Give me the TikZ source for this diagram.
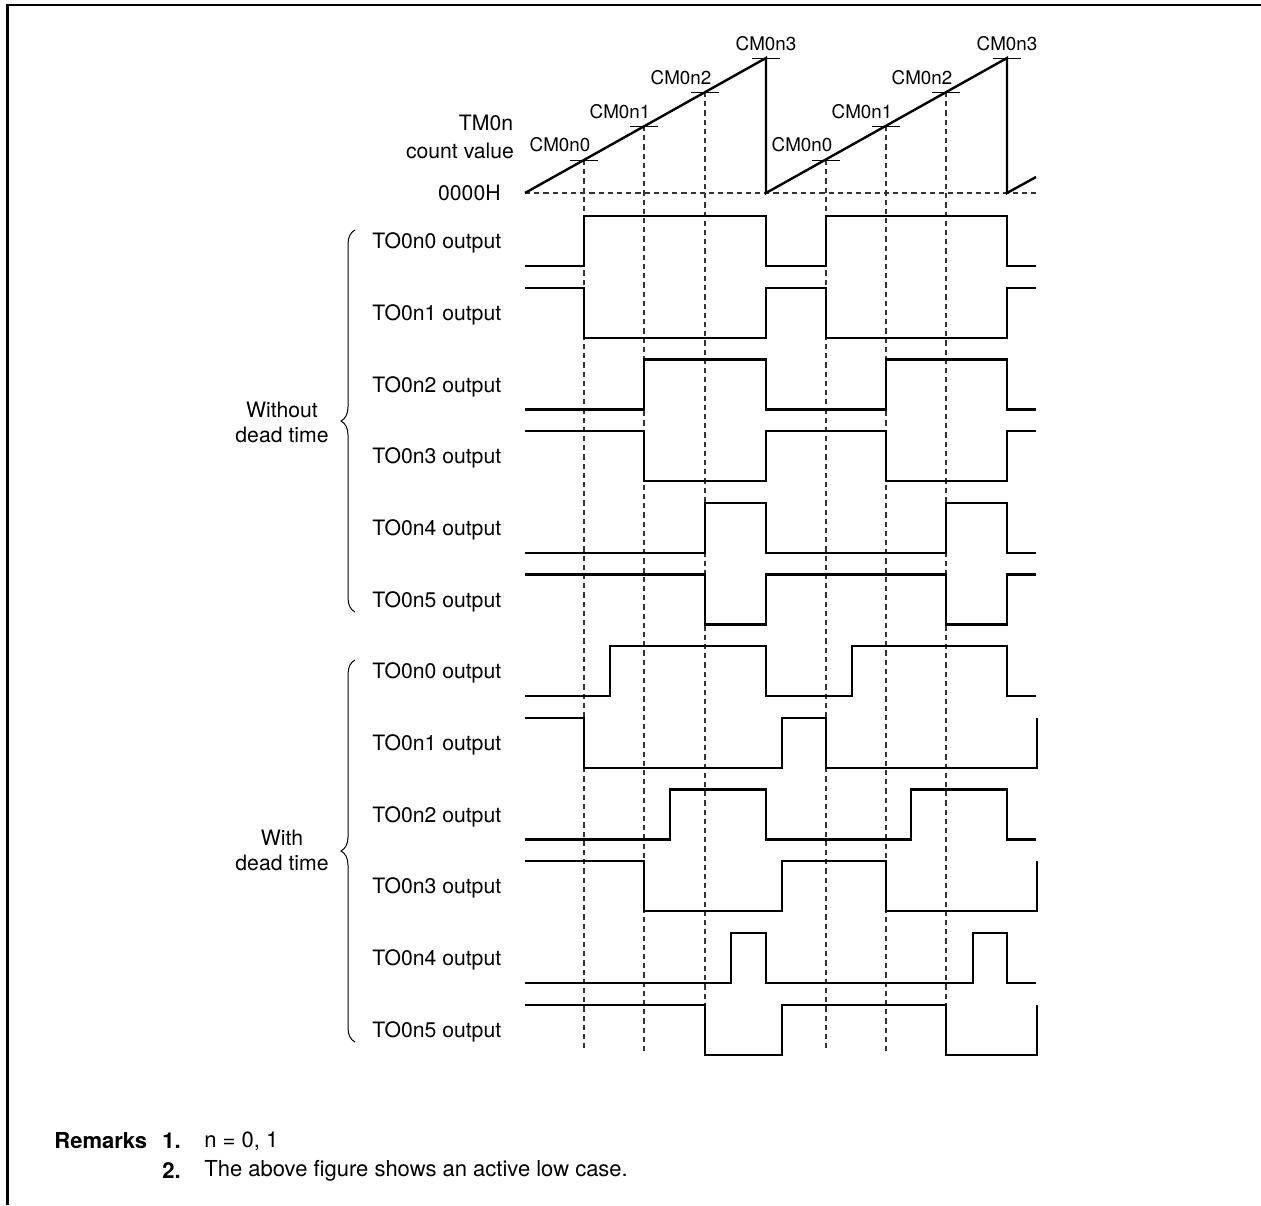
\documentclass[tikz,border=0pt]{standalone}
\usepackage{fontspec}
\setmainfont{TeX Gyre Heros}
\usetikzlibrary{decorations.pathreplacing}
\begin{document}
\begin{tikzpicture}[
  x=0.5pt, y=-0.5pt,
  every node/.style={font=\fontsize{10.6}{12.5}\selectfont, inner sep=0pt},
  cmlabel/.style={font=\fontsize{9.4}{11}\selectfont},
  remark/.style={anchor=west, font=\fontsize{11}{13}\selectfont},
  wave/.style={line width=1.15pt, line join=miter},
  ramp/.style={line width=1.2pt},
  grid/.style={dash pattern=on 2.6pt off 2pt, line width=0.55pt, black!80},
  tick/.style={line width=0.5pt},
  lbl/.style={anchor=west},
  curly/.style={decorate, decoration={brace, amplitude=7pt}, line width=0.5pt}
]
\useasboundingbox (0,0) rectangle (1261,1205);
% frame
\draw[line width=1.4pt] (7.5,1205) -- (7.5,5) -- (1261,5);

% counter
\coordinate (z0) at (525,193);
\coordinate (p0) at (584,160);
\coordinate (p1) at (644,126);
\coordinate (p2) at (705,92);
\coordinate (p3) at (766,58);
\coordinate (z1) at (766,193);
\coordinate (p4) at (826,160);
\coordinate (p5) at (886,126);
\coordinate (p6) at (946,92);
\coordinate (p7) at (1007,58);
\coordinate (z2) at (1007,193);
\coordinate (z3) at (1036,177);
\coordinate (bz) at (1036,193);
\coordinate (bot) at (0,1052);

\draw[grid] (z0) -- (bz);
\foreach \i in {0,1,2,4,5,6}
  \draw[grid] (p\i) -- (p\i |- bot);
\draw[ramp] (z0) -- (p3) -- (z1) -- (p7) -- (z2) -- (z3);
\foreach \i in {0,...,7}
  \draw[tick] ([xshift=-7pt]p\i) -- ([xshift=7pt]p\i);

\node[cmlabel] (c0) at (560,145) {CM0n0};
\node[cmlabel] (c1) at (620,112) {CM0n1};
\node[cmlabel] (c2) at (681,78)  {CM0n2};
\node[cmlabel] (c3) at (766,44)  {CM0n3};
\node[cmlabel] (c4) at (802,145) {CM0n0};
\node[cmlabel] (c5) at (862,112) {CM0n1};
\node[cmlabel] (c6) at (922,78)  {CM0n2};
\node[cmlabel] (c7) at (1007,44) {CM0n3};

\node (tm) at (486,123) {TM0n};
\node (cv) at (460,151) {count value};
\node[anchor=east] (zh) at (501,193) {0000H};

% without dead time
\begin{scope}[shift={(0,241)}]
  \node[lbl] (a0) at (372,2) {TO0n0 output};
  \draw[wave] (525,25) -- (584,25) -- (584,-25) -- (766,-25) -- (766,25) -- (826,25) -- (826,-25) -- (1007,-25) -- (1007,25) -- (1036,25);
\end{scope}
\begin{scope}[shift={(0,312.7)}]
  \node[lbl] (a1) at (372,2) {TO0n1 output};
  \draw[wave] (525,-25) -- (584,-25) -- (584,25) -- (766,25) -- (766,-25) -- (826,-25) -- (826,25) -- (1007,25) -- (1007,-25) -- (1036,-25);
\end{scope}
\begin{scope}[shift={(0,384.4)}]
  \node[lbl] (a2) at (372,2) {TO0n2 output};
  \draw[wave] (525,25) -- (644,25) -- (644,-25) -- (766,-25) -- (766,25) -- (886,25) -- (886,-25) -- (1007,-25) -- (1007,25) -- (1036,25);
\end{scope}
\begin{scope}[shift={(0,456.1)}]
  \node[lbl] (a3) at (372,2) {TO0n3 output};
  \draw[wave] (525,-25) -- (644,-25) -- (644,25) -- (766,25) -- (766,-25) -- (886,-25) -- (886,25) -- (1007,25) -- (1007,-25) -- (1036,-25);
\end{scope}
\begin{scope}[shift={(0,527.8)}]
  \node[lbl] (a4) at (372,2) {TO0n4 output};
  \draw[wave] (525,25) -- (705,25) -- (705,-25) -- (766,-25) -- (766,25) -- (946,25) -- (946,-25) -- (1007,-25) -- (1007,25) -- (1036,25);
\end{scope}
\begin{scope}[shift={(0,599.5)}]
  \node[lbl] (a5) at (372,2) {TO0n5 output};
  \draw[wave] (525,-25) -- (705,-25) -- (705,25) -- (766,25) -- (766,-25) -- (946,-25) -- (946,25) -- (1007,25) -- (1007,-25) -- (1036,-25);
\end{scope}

% with dead time
\begin{scope}[shift={(0,671.2)}]
  \node[lbl] (d0) at (372,2) {TO0n0 output};
  \draw[wave] (525,25) -- (610,25) -- (610,-25) -- (766,-25) -- (766,25) -- (852,25) -- (852,-25) -- (1007,-25) -- (1007,25) -- (1036,25);
\end{scope}
\begin{scope}[shift={(0,742.9)}]
  \node[lbl] (d1) at (372,2) {TO0n1 output};
  \draw[wave] (525,-25) -- (584,-25) -- (584,25) -- (782,25) -- (782,-25) -- (826,-25) -- (826,25) -- (1037,25) -- (1037,-25);
\end{scope}
\begin{scope}[shift={(0,814.6)}]
  \node[lbl] (d2) at (372,2) {TO0n2 output};
  \draw[wave] (525,25) -- (670,25) -- (670,-25) -- (766,-25) -- (766,25) -- (911,25) -- (911,-25) -- (1007,-25) -- (1007,25) -- (1036,25);
\end{scope}
\begin{scope}[shift={(0,886.3)}]
  \node[lbl] (d3) at (372,2) {TO0n3 output};
  \draw[wave] (525,-25) -- (644,-25) -- (644,25) -- (782,25) -- (782,-25) -- (886,-25) -- (886,25) -- (1037,25) -- (1037,-25);
\end{scope}
\begin{scope}[shift={(0,958)}]
  \node[lbl] (d4) at (372,2) {TO0n4 output};
  \draw[wave] (525,25) -- (731,25) -- (731,-25) -- (766,-25) -- (766,25) -- (973,25) -- (973,-25) -- (1007,-25) -- (1007,25) -- (1036,25);
\end{scope}
\begin{scope}[shift={(0,1029.7)}]
  \node[lbl] (d5) at (372,2) {TO0n5 output};
  \draw[wave] (525,-25) -- (705,-25) -- (705,25) -- (782,25) -- (782,-25) -- (946,-25) -- (946,25) -- (1037,25) -- (1037,-25);
\end{scope}

% groups
\coordinate (g0b) at (355,612);
\coordinate (g0t) at (355,230);
\coordinate (g1b) at (355,1042);
\coordinate (g1t) at (355,660);
\draw[curly] (g0b) -- (g0t);
\draw[curly] (g1b) -- (g1t);
\node[align=center] (wo) at (282,422) {Without\\dead time};
\node[align=center] (wi) at (282,850) {With\\dead time};

% remarks
\node[remark, font=\fontsize{11}{13}\selectfont\bfseries] (rm) at (54,1141) {Remarks};
\node[remark, font=\fontsize{11}{13}\selectfont\bfseries] (r1) at (162,1141) {1.};
\node[remark] (t1) at (204,1141) {n = 0, 1};
\node[remark, font=\fontsize{11}{13}\selectfont\bfseries] (r2) at (162,1171) {2.};
\node[remark] (t2) at (204,1171) {The above figure shows an active low case.};
\end{tikzpicture}
\end{document}
